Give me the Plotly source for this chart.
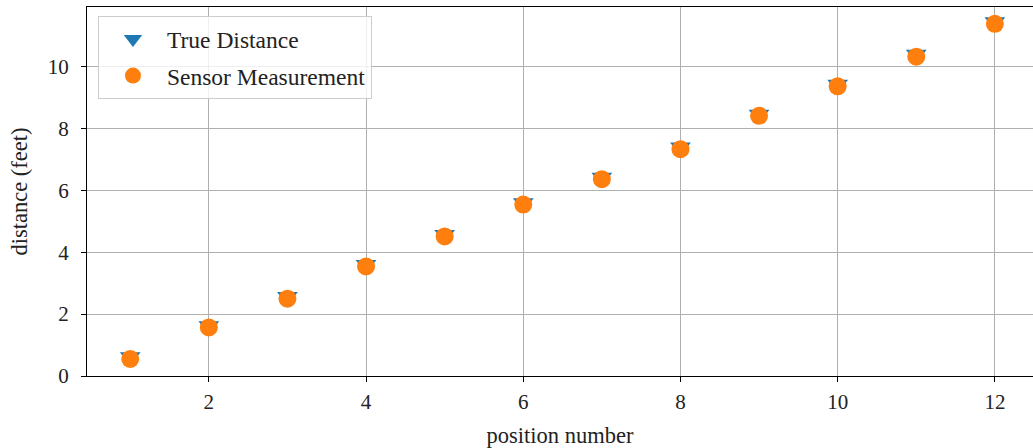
import plotly.graph_objects as go

positions = [1, 2, 3, 4, 5, 6, 7, 8, 9, 10, 11, 12]
true_distance = [0.62, 1.62, 2.57, 3.6, 4.57, 5.6, 6.42, 7.4, 8.46, 9.43, 10.4, 11.45]
sensor_measurement = [0.55, 1.57, 2.5, 3.54, 4.51, 5.54, 6.36, 7.33, 8.41, 9.36, 10.32, 11.38]
x_ticks = [2, 4, 6, 8, 10, 12]
y_ticks = [0, 2, 4, 6, 8, 10]

FONT = "Liberation Serif"

fig = go.Figure()
fig.add_trace(go.Scatter(
    x=positions, y=true_distance, mode="markers", name="True Distance",
    marker=dict(symbol="triangle-down", size=18, color="#1f77b4", line=dict(width=0)),
    legendgroup="a",
))
fig.add_trace(go.Scatter(
    x=positions, y=sensor_measurement, mode="markers", name="Sensor Measurement",
    marker=dict(symbol="circle", size=18, color="#ff7f0e", line=dict(width=0)),
    legendgroup="b",
))

axis_common = dict(
    showgrid=True, gridcolor="#b0b0b0", gridwidth=1,
    showline=True, linecolor="black", linewidth=1.2,
    ticks="outside", ticklen=5, tickwidth=1, tickcolor="black",
    zeroline=False, automargin=False,
    tickfont=dict(family=FONT, size=21, color="#222"),
)

fig.update_layout(
    width=1033, height=448,
    margin=dict(l=87, r=0, t=7, b=72, autoexpand=False),
    plot_bgcolor="white", paper_bgcolor="white",
    font=dict(family=FONT, size=22, color="#222"),
    showlegend=True,
    legend=dict(
        x=0.0116, y=0.975, xanchor="left", yanchor="top",
        bgcolor="rgba(255,255,255,0.8)", bordercolor="#cccccc", borderwidth=1,
        font=dict(family=FONT, size=23.5, color="#222"),
        itemwidth=58, traceorder="grouped", tracegroupgap=3,
    ),
    xaxis=dict(
        range=[0.45, 12.485], tickvals=x_ticks, mirror=True, ticklabelstandoff=2,
        title=dict(text="position number", font=dict(family=FONT, size=22.5, color="#222"), standoff=14),
        **axis_common,
    ),
    yaxis=dict(
        range=[0, 11.925], tickvals=y_ticks, ticklabelstandoff=8,
        title=dict(text="distance (feet)", font=dict(family=FONT, size=22.5, color="#222"), standoff=13),
        **axis_common,
    ),
)

fig.write_html(
    "out.html",
    config={"displayModeBar": False},
    post_script="document.body.style.margin='0';document.body.style.overflow='hidden';",
)
